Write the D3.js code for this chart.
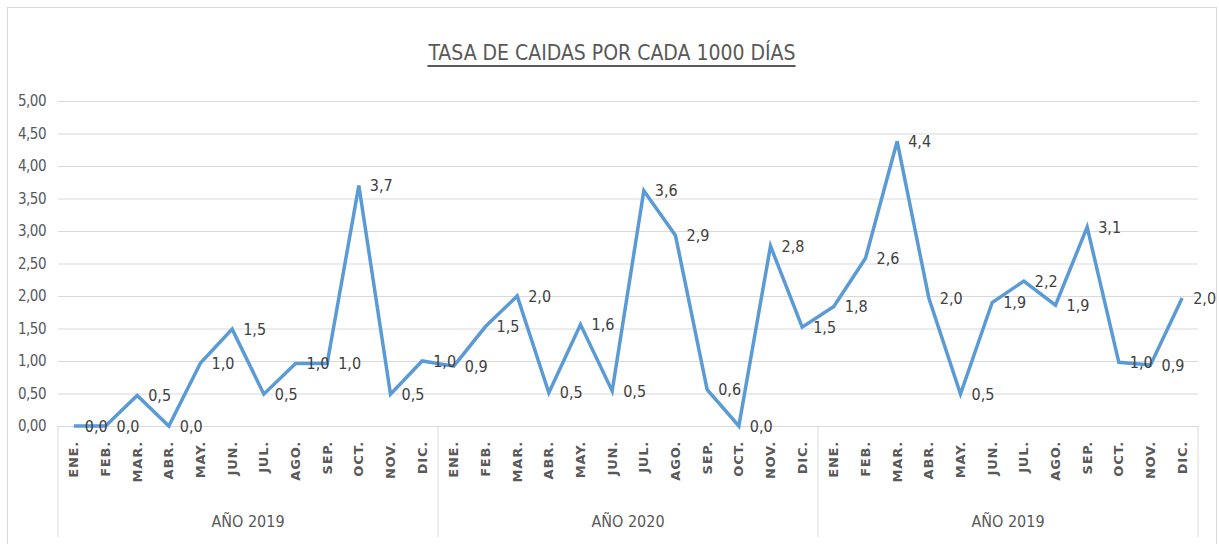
<!DOCTYPE html>
<html>
<head>
<meta charset="utf-8">
<script src="https://cdn.jsdelivr.net/npm/d3@7"></script>
<style>
  body { margin: 0; background: #fff; }
  svg { display: block; }
</style>
</head>
<body>
<div id="chart"></div>
<script>
// data
var months = ["ENE.","FEB.","MAR.","ABR.","MAY.","JUN.","JUL.","AGO.","SEP.","OCT.","NOV.","DIC."];
var years = ["AÑO 2019","AÑO 2020","AÑO 2019"];
var rate1 = [0.00,0.00,0.47,0.00,0.97,1.49,0.49,0.96,0.96,3.70,0.49,1.00];
var rate2 = [0.92,1.53,2.00,0.51,1.56,0.54,3.62,2.93,0.56,0.00,2.77,1.52];
var rate3 = [1.84,2.58,4.38,1.97,0.49,1.90,2.23,1.86,3.06,0.98,0.94,1.97];
var yTicks = [0,0.5,1,1.5,2,2.5,3,3.5,4,4.5,5];

var width = 1219, height = 544;
var plotLeft = 58, plotRight = 1198, plotTop = 101, plotBottom = 426;
var font = "'Liberation Sans Narrow','DejaVu Sans Condensed',Arial,sans-serif";

// build one row per month
var rows = [];
[rate1, rate2, rate3].forEach(function(s, g){
  s.forEach(function(v, i){
    rows.push({key: g + "-" + i, group: g, month: months[i], value: v});
  });
});

var svg = d3.select("#chart").append("svg")
  .attr("width", width).attr("height", height);

// chart frame
svg.append("rect")
  .attr("x", 7.5).attr("y", 7.5)
  .attr("width", 1209).attr("height", 560)
  .style("fill", "none").style("stroke", "#d9d9d9");

var x = d3.scaleBand()
  .domain(rows.map(function(d){ return d.key; }))
  .range([plotLeft, plotRight]);
var y = d3.scaleLinear().domain([0, 5]).range([plotBottom, plotTop]);

// title
var title = svg.append("text")
  .attr("x", 612).attr("y", 60)
  .attr("text-anchor", "middle")
  .style("font-family", font).style("font-size", "21px")
  .style("fill", "#595959")
  .text("TASA DE CAIDAS POR CADA 1000 DÍAS");
var tb = title.node().getBBox();
svg.append("line")
  .attr("x1", tb.x).attr("x2", tb.x + tb.width)
  .attr("y1", 66).attr("y2", 66)
  .style("stroke", "#595959").style("stroke-width", 2);

// y axis with gridlines
var yAxis = svg.append("g")
  .attr("transform", "translate(" + plotLeft + ",0)")
  .call(d3.axisLeft(y).tickValues(yTicks).tickSize(-(plotRight - plotLeft)).tickPadding(12)
    .tickFormat(function(d){ return d3.format(".2f")(d).replace(".", ","); }));
yAxis.select(".domain").remove();
yAxis.selectAll("line").style("stroke", "#d9d9d9");
yAxis.selectAll("text")
  .style("font-family", font).style("font-size", "15px").style("letter-spacing", "-0.5px")
  .style("fill", "#595959");

// month labels
var xAxis = svg.append("g")
  .attr("transform", "translate(0," + plotBottom + ")")
  .call(d3.axisBottom(x).tickSize(0)
    .tickFormat(function(k){ return months[+k.split("-")[1]]; }));
xAxis.select(".domain").remove();
xAxis.selectAll("text")
  .attr("transform", "rotate(-90)")
  .attr("x", -15).attr("y", 0).attr("dy", "0.35em")
  .style("text-anchor", "end")
  .style("font-family", "Verdana,'DejaVu Sans',sans-serif")
  .style("font-size", "13px").style("font-weight", "bold").style("letter-spacing", "0.8px")
  .style("fill", "#595959");

// year groups
svg.selectAll(".sep")
  .data(d3.range(years.length + 1)).enter()
  .append("line").attr("class", "sep")
  .attr("x1", function(g){ return plotLeft + g * 12 * x.bandwidth(); })
  .attr("x2", function(g){ return plotLeft + g * 12 * x.bandwidth(); })
  .attr("y1", plotBottom).attr("y2", 537)
  .style("stroke", "#d9d9d9");

svg.selectAll(".year")
  .data(years).enter()
  .append("text").attr("class", "year")
  .attr("x", function(d, g){ return plotLeft + (g + 0.5) * 12 * x.bandwidth(); })
  .attr("y", 527)
  .attr("text-anchor", "middle")
  .style("font-family", font).style("font-size", "16px").style("fill", "#595959")
  .text(function(d){ return d; });

// line
var cx = function(d){ return x(d.key) + x.bandwidth() / 2; };
svg.append("path")
  .datum(rows)
  .attr("d", d3.line().x(cx).y(function(d){ return y(d.value); }))
  .style("fill", "none").style("stroke", "#5b9bd5")
  .style("stroke-width", 3.5).style("stroke-linejoin", "miter");

// data labels
svg.selectAll(".lbl")
  .data(rows).enter()
  .append("text").attr("class", "lbl")
  .attr("x", function(d){ return cx(d) + 11; })
  .attr("y", function(d){ return y(d.value); })
  .attr("dy", "0.35em")
  .style("font-family", font).style("font-size", "16px").style("fill", "#404040")
  .text(function(d){ return d3.format(".1f")(d.value).replace(".", ","); });
</script>
</body>
</html>
